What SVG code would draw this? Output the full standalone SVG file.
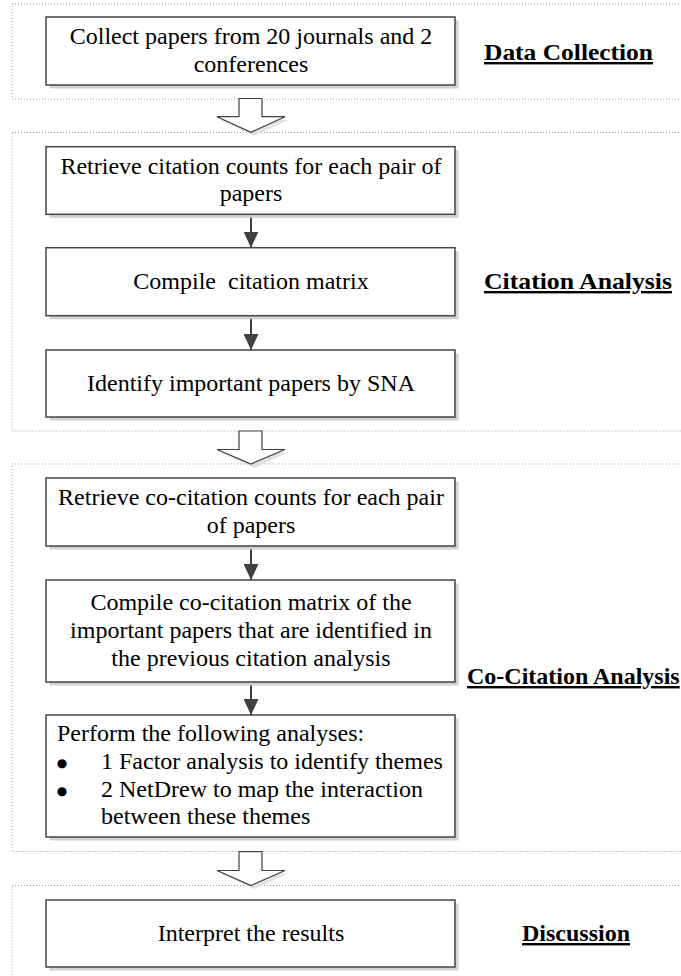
<svg xmlns="http://www.w3.org/2000/svg" width="681" height="976" viewBox="0 0 681 976">
<style>
.sec{fill:none;stroke:#9a9a9a;stroke-width:1;stroke-dasharray:1 2}
.box{fill:#fff;stroke:#454545;stroke-width:1.5}
.shadow{fill:#d2d2d2}
.t{font-family:"Liberation Serif","Times New Roman",serif;font-size:24px;fill:#000;text-anchor:middle}
.tl{font-family:"Liberation Serif","Times New Roman",serif;font-size:24px;fill:#000}
.bul{font-family:"DejaVu Sans",sans-serif;font-size:12px;fill:#000;text-anchor:middle}
.h{font-family:"Liberation Serif","Times New Roman",serif;font-size:24px;font-weight:bold;text-decoration:underline;fill:#000}
.conn{stroke:#404040;stroke-width:2;fill:none}
.big{fill:#fff;stroke:#404040;stroke-width:1.2}
.bigsh{fill:#e2e2e2}
</style>
<defs>
<marker id="ah" viewBox="0 0 16 15" refX="16" refY="7.5" markerWidth="16" markerHeight="15" markerUnits="userSpaceOnUse" orient="auto">
<path d="M0,0 L16,7.5 L0,15 Z" fill="#404040"/>
</marker>
</defs>

<g id="sections">
<rect class="sec" x="12" y="4" width="700" height="95"/>
<rect class="sec" x="12" y="132.5" width="700" height="298.5"/>
<rect class="sec" x="12" y="464" width="700" height="387.5"/>
<rect class="sec" x="12" y="885.5" width="700" height="120"/>
</g>

<g id="phase-arrows">
<path class="bigsh" d="M220,120 H288 L254,136 Z"/>
<path class="big" d="M239,98.5 H262 V116.7 H285 L251,132.3 L217,116.7 H239 Z"/>
<path class="bigsh" d="M220,452.5 H288 L254,468 Z"/>
<path class="big" d="M239,431 H262 V449.5 H285 L251,464 L217,449.5 H239 Z"/>
<path class="bigsh" d="M220,873.5 H288 L254,889 Z"/>
<path class="big" d="M239,851.7 H262 V870.5 H285 L251,885.5 L217,870.5 H239 Z"/>
</g>

<g id="connectors">
<line class="conn" x1="251" y1="215" x2="251" y2="247.7" marker-end="url(#ah)"/>
<line class="conn" x1="251" y1="316.5" x2="251" y2="350" marker-end="url(#ah)"/>
<line class="conn" x1="251" y1="546.5" x2="251" y2="580" marker-end="url(#ah)"/>
<line class="conn" x1="251" y1="682.5" x2="251" y2="715" marker-end="url(#ah)"/>
</g>

<g id="n1">
<rect class="shadow" x="49.5" y="20.5" width="409" height="68"/>
<rect class="box" x="46" y="17" width="409" height="68"/>
<text class="t" x="251" y="44">Collect papers from 20 journals and 2</text>
<text class="t" x="251" y="72">conferences</text>
</g>

<g id="n2">
<rect class="shadow" x="49.5" y="150.2" width="409" height="67.6"/>
<rect class="box" x="46" y="146.7" width="409" height="67.6"/>
<text class="t" x="251" y="173.5">Retrieve citation counts for each pair of</text>
<text class="t" x="251" y="201">papers</text>
</g>

<g id="n3">
<rect class="shadow" x="49.5" y="251.2" width="409" height="68"/>
<rect class="box" x="46" y="247.7" width="409" height="68"/>
<text class="t" x="251" y="289" xml:space="preserve">Compile  citation matrix</text>
</g>

<g id="n4">
<rect class="shadow" x="49.5" y="353.5" width="409" height="67"/>
<rect class="box" x="46" y="350" width="409" height="67"/>
<text class="t" x="251" y="391">Identify important papers by SNA</text>
</g>

<g id="n5">
<rect class="shadow" x="49.5" y="481.5" width="409" height="68"/>
<rect class="box" x="46" y="478" width="409" height="68"/>
<text class="t" x="251" y="505">Retrieve co-citation counts for each pair</text>
<text class="t" x="251" y="533">of papers</text>
</g>

<g id="n6">
<rect class="shadow" x="49.5" y="583.5" width="409" height="102"/>
<rect class="box" x="46" y="580" width="409" height="102"/>
<text class="t" x="251" y="610">Compile co-citation matrix of the</text>
<text class="t" x="251" y="638">important papers that are identified in</text>
<text class="t" x="251" y="666">the previous citation analysis</text>
</g>

<g id="n7">
<rect class="shadow" x="49.5" y="718.5" width="409" height="122"/>
<rect class="box" x="46" y="715" width="409" height="122"/>
<text class="tl" x="57" y="741">Perform the following analyses:</text>
<text class="bul" x="62" y="767">●</text>
<text class="tl" x="101" y="769">1 Factor analysis to identify themes</text>
<text class="bul" x="62" y="795">●</text>
<text class="tl" x="101" y="797">2 NetDrew to map the interaction</text>
<text class="tl" x="101" y="824">between these themes</text>
</g>

<g id="n8">
<rect class="shadow" x="49.5" y="903.5" width="409" height="67"/>
<rect class="box" x="46" y="900" width="409" height="67"/>
<text class="t" x="251" y="941">Interpret the results</text>
</g>

<g id="labels">
<text class="h" x="484" y="60" textLength="169" lengthAdjust="spacingAndGlyphs">Data Collection</text>
<text class="h" x="484" y="289" textLength="188" lengthAdjust="spacingAndGlyphs">Citation Analysis</text>
<text class="h" x="467" y="684">Co-Citation Analysis</text>
<text class="h" x="522" y="941">Discussion</text>
</g>
</svg>
